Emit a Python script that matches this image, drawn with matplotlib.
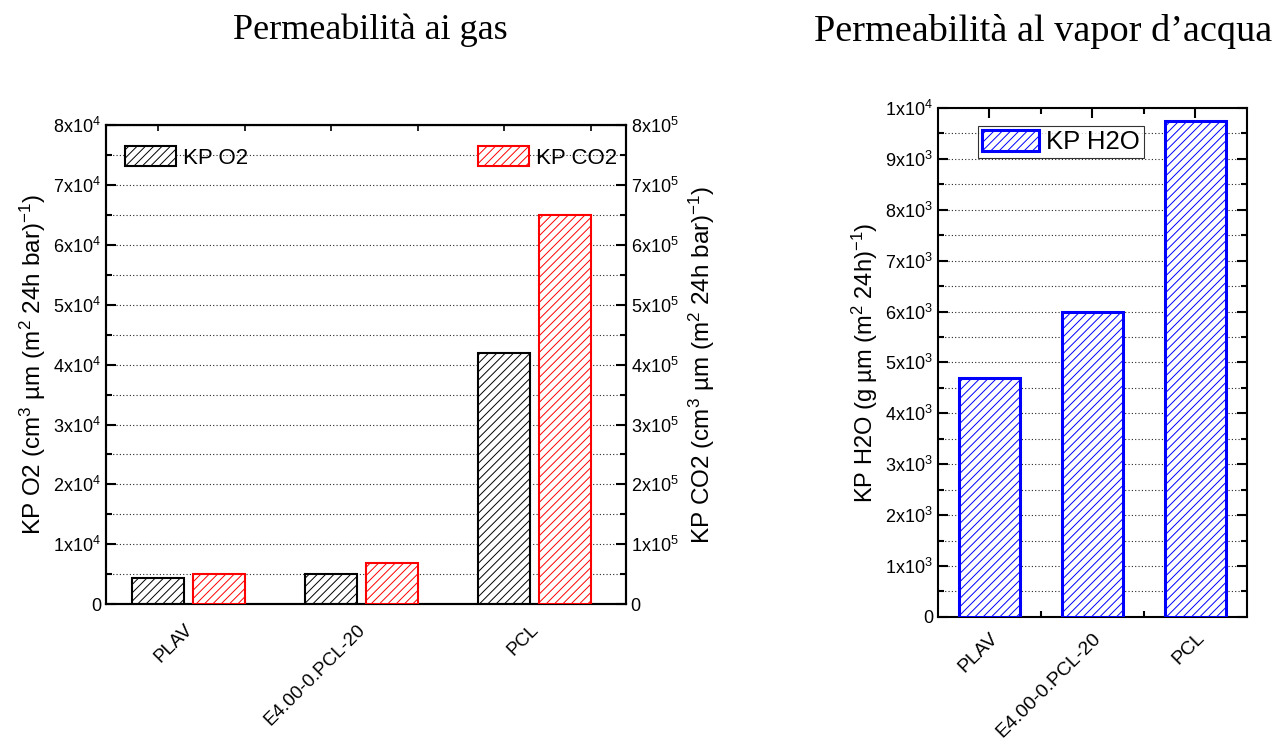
import matplotlib
matplotlib.use("Agg")
import matplotlib.pyplot as plt

plt.rcParams['font.family'] = ['Liberation Sans', 'DejaVu Sans']
plt.rcParams['mathtext.fontset'] = 'custom'
plt.rcParams['mathtext.rm'] = 'Liberation Sans'
plt.rcParams['mathtext.it'] = 'Liberation Sans:italic'
plt.rcParams['hatch.linewidth'] = 0.7

# data
samples = ['PLAV', 'E4.00-0.PCL-20', 'PCL']
kp_o2 = [4300, 5000, 41900]        # cm3 um (m2 24h bar)^-1
kp_co2 = [50000, 69000, 650000]    # cm3 um (m2 24h bar)^-1
kp_h2o = [4700, 6000, 9750]        # g um (m2 24h)^-1

o2_ticks = [0, 10000, 20000, 30000, 40000, 50000, 60000, 70000, 80000]
o2_labels = ['0'] + ['%dx10$^{4}$' % i for i in range(1, 9)]
co2_labels = ['0'] + ['%dx10$^{5}$' % i for i in range(1, 9)]
h2o_ticks = [0, 1000, 2000, 3000, 4000, 5000, 6000, 7000, 8000, 9000, 10000]
h2o_labels = ['0'] + ['%dx10$^{3}$' % i for i in range(1, 10)] + ['1x10$^{4}$']

fig = plt.figure(figsize=(12.77, 7.45), dpi=100)

fs_tick = 13


def style_ax(ax):
    for s in ax.spines.values():
        s.set_linewidth(1.5)
    ax.tick_params(axis='y', which='major', direction='in', length=7, width=1.5, labelsize=fs_tick)
    ax.tick_params(axis='y', which='minor', direction='in', length=4.5, width=1.5)


# ---------------- left: gas permeability ----------------
ax1 = fig.add_axes([0.083, 0.189, 0.407, 0.643])
ax2 = ax1.twinx()
x = [1, 2, 3]
ax1.bar([i - 0.2 for i in x], kp_o2, width=0.3, facecolor='white', edgecolor='black',
        hatch='////', linewidth=1.5, label='KP O2', zorder=3)
ax2.bar([i + 0.15 for i in x], kp_co2, width=0.3, facecolor='white', edgecolor='red',
        hatch='////', linewidth=1.5, label='KP CO2', zorder=3)
ax1.set_xlim(0.5, 3.5)
ax1.set_ylim(0, 80000)
ax2.set_ylim(0, 800000)
ax1.set_yticks(o2_ticks, o2_labels)
ax1.set_yticks(range(5000, 80000, 10000), minor=True)
ax2.set_yticks([t * 10 for t in o2_ticks], co2_labels)
ax2.set_yticks(range(50000, 800000, 100000), minor=True)
style_ax(ax1)
style_ax(ax2)
ax1.yaxis.grid(True, which='both', linestyle=(0, (1, 2)), color='0.15', linewidth=0.8)
ax1.set_axisbelow(True)
# labels sit a little left of the group centre, as in the original
ax1.set_xticks([i - 0.05 for i in x], samples, rotation=45, ha='right',
               rotation_mode='anchor', fontsize=13.5)
ax1.tick_params(axis='x', length=0, pad=12)
top1 = ax1.secondary_xaxis('top')
top1.set_xticks([0.8, 1.3, 1.8, 2.3, 2.8, 3.3])
top1.tick_params(direction='in', length=4, width=1.2, labeltop=False)
ax1.set_ylabel('KP O2 (cm$^3$ µm (m$^2$ 24h bar)$^{-1}$)', fontsize=17.5, labelpad=4)
ax2.set_ylabel('KP CO2 (cm$^3$ µm (m$^2$ 24h bar)$^{-1}$)', fontsize=17.5, labelpad=6)
ax1.legend(loc='upper left', bbox_to_anchor=(0.02, 0.975), frameon=False, fontsize=16,
           handlelength=2.3, handleheight=1.0, handletextpad=0.3, borderaxespad=0)
ax2.legend(loc='upper right', bbox_to_anchor=(1.0, 0.975), frameon=False, fontsize=16,
           handlelength=2.3, handleheight=1.0, handletextpad=0.3, borderaxespad=0)

# ---------------- right: water vapour permeability ----------------
ax3 = fig.add_axes([0.7345, 0.172, 0.242, 0.683])
ax3.bar(x, kp_h2o, width=0.6, facecolor='white', edgecolor='blue', hatch='////',
        linewidth=2.2, label='KP H2O', zorder=3)
ax3.set_xlim(0.5, 3.5)
ax3.set_ylim(0, 10000)
ax3.set_yticks(h2o_ticks, h2o_labels)
ax3.set_yticks(range(500, 10000, 1000), minor=True)
style_ax(ax3)
ax3.tick_params(axis='y', which='both', right=True)
ax3.yaxis.grid(True, which='both', linestyle=(0, (1, 2)), color='0.15', linewidth=0.8)
ax3.set_axisbelow(True)
ax3.set_xticks(x, samples, rotation=45, ha='right', rotation_mode='anchor', fontsize=14)
ax3.set_xticks([1.5, 2.5], minor=True)
ax3.tick_params(axis='x', which='major', direction='in', length=7, width=1.5, top=True, pad=9)
ax3.tick_params(axis='x', which='minor', direction='in', length=4.5, width=1.5, top=True)
ax3.set_ylabel('KP H2O (g µm (m$^2$ 24h)$^{-1}$)', fontsize=17, labelpad=4)
leg = ax3.legend(loc='upper left', bbox_to_anchor=(0.13, 0.965), frameon=True, fancybox=False,
                 fontsize=18.5, handlelength=2.2, handleheight=0.9, handletextpad=0.3,
                 borderpad=0.15, borderaxespad=0)
leg.get_frame().set_edgecolor('black')
leg.get_frame().set_linewidth(0.8)

fig.text(0.29, 0.96, 'Permeabilità ai gas', fontsize=26, family='Liberation Serif',
         ha='center', va='center')
fig.text(0.817, 0.958, 'Permeabilità al vapor d\u2019acqua', fontsize=27.5,
         family='Liberation Serif', ha='center', va='center')

fig.savefig('out.png', dpi=100)
